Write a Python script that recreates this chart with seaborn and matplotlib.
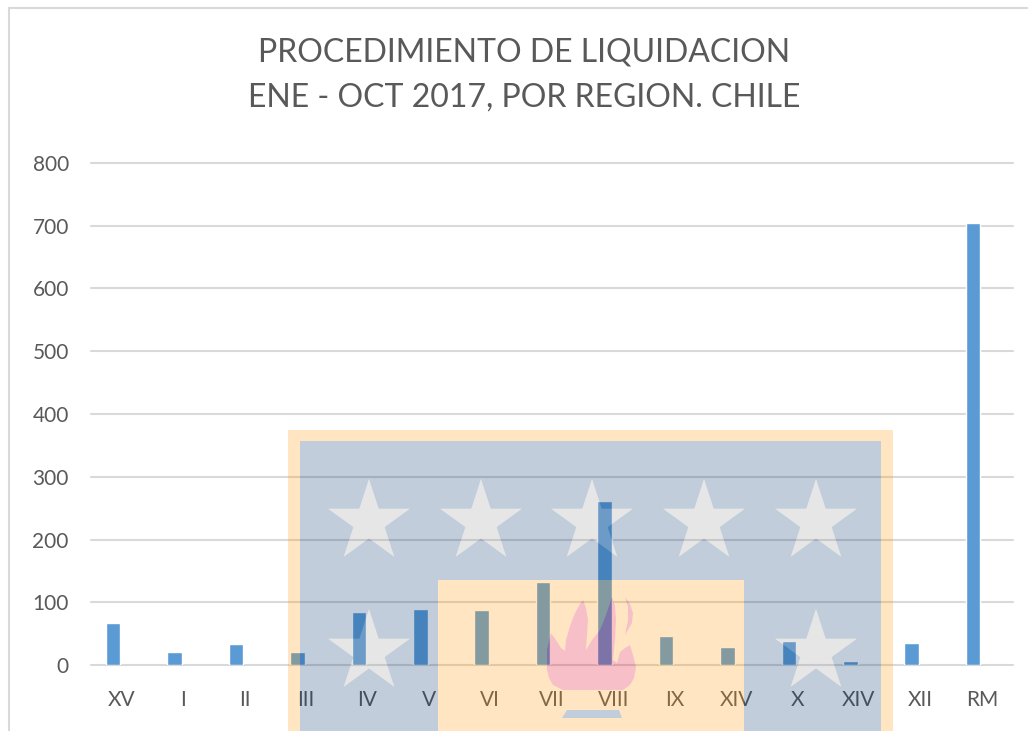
import matplotlib
matplotlib.use("Agg")
import matplotlib.pyplot as plt
import numpy as np
import pandas as pd
import seaborn as sns
from matplotlib.patches import PathPatch
from matplotlib.path import Path
from matplotlib.lines import Line2D

regiones = ["XV", "I", "II", "III", "IV", "V", "VI", "VII", "VIII", "IX", "XIV", "X", "XIV", "XII", "RM"]
casos = [67, 21, 33, 20, 84, 90, 87, 132, 261, 47, 28, 39, 6, 35, 705]
y_ticks = [0, 100, 200, 300, 400, 500, 600, 700, 800]
titulo = "PROCEDIMIENTO DE LIQUIDACION\nENE - OCT 2017, POR REGION. CHILE"

W, H = 1028, 731
TEXTO = "#595959"

sns.set_theme(style="white")
plt.rcParams["font.family"] = ["Lato", "DejaVu Sans"]

fig = plt.figure(figsize=(W / 100, H / 100), dpi=100)
ax = fig.add_axes([91 / W, 1 - 665 / H, (1012.5 - 91) / W, (665 - 163) / H])

# dos series como en el grafico original, la segunda viene vacia
data = pd.DataFrame({
    "pos": list(range(len(regiones))) * 2,
    "valor": casos + [np.nan] * len(casos),
    "serie": ["casos"] * len(casos) + ["vacia"] * len(casos),
})
sns.barplot(data=data, x="pos", y="valor", hue="serie", palette=["#5B9BD5", "#ED7D31"], saturation=1,
            width=0.56, gap=0.15, legend=False, ax=ax, zorder=3)

ax.set_ylim(0, 800)
ax.set_yticks(y_ticks)
ax.set_xticks(range(len(regiones)))
ax.set_xticklabels(regiones)
ax.set_xlabel("")
ax.set_ylabel("")
ax.grid(axis="y", color="#D9D9D9", linewidth=1.5, zorder=0, clip_on=False)
ax.set_axisbelow(True)
sns.despine(ax=ax, left=True, bottom=True, top=True, right=True)
ax.tick_params(axis="both", length=0, labelsize=15, labelcolor=TEXTO)
ax.tick_params(axis="x", pad=18)
ax.tick_params(axis="y", pad=16)

fig.text(524 / W, 1 - 75 / H, titulo, ha="center", va="center", fontsize=23, color=TEXTO, linespacing=1.65)

# borde del grafico
borde = "#D9D9D9"
fig.add_artist(Line2D([8.5 / W, 8.5 / W], [0, 1 - 7.5 / H], color=borde, lw=1.5))
fig.add_artist(Line2D([8.5 / W, 1], [1 - 7.5 / H, 1 - 7.5 / H], color=borde, lw=1.5))


# marca de agua (escudo), coordenadas en pixeles de la imagen
def rect(x0, y0, x1, y1):
    return [(x0, y0), (x1, y0), (x1, y1), (x0, y1)]


def estrella(cx, cy, r=43):
    pts = []
    for i in range(10):
        rad = r if i % 2 == 0 else r * 0.382
        ang = np.pi / 2 + i * np.pi / 5
        pts.append((cx + rad * np.cos(ang), cy - rad * np.sin(ang)))
    return pts


def orientar(pts, horario):
    a = np.array(pts)
    area = np.sum(a[:, 0] * np.roll(a[:, 1], -1) - np.roll(a[:, 0], -1) * a[:, 1])
    return pts if (area > 0) == horario else pts[::-1]


def compuesto(anillos, color, alpha=0.25):
    verts, codes = [], []
    for pts in anillos:
        verts += [(x / W, 1 - y / H) for x, y in pts] + [(0, 0)]
        codes += [Path.MOVETO] + [Path.LINETO] * (len(pts) - 1) + [Path.CLOSEPOLY]
    fig.add_artist(PathPatch(Path(verts, codes), facecolor=color, edgecolor="none", alpha=alpha,
                             transform=fig.transFigure, zorder=10))


estrellas = [estrella(x, 522) for x in (369, 481, 592, 704, 816)] + [estrella(x, 652) for x in (369, 816)]
llama = [(551, 633), (556, 640), (561, 648), (565, 651), (566, 640), (570, 626), (575, 613), (580, 604), (583, 600),
         (586, 608), (588, 620), (587, 635), (586, 650), (592, 640), (600, 630), (606, 615), (612, 597), (615, 606),
         (616, 620), (615, 640), (613, 660), (617, 663), (620, 652), (625, 648), (630, 645), (633, 655), (636, 667),
         (634, 678), (630, 685), (623, 690), (563, 690), (553, 685), (549, 678), (547, 670), (547, 650)]
llama2 = [(625, 597), (630, 604), (633, 613), (632, 623), (625, 635), (628, 620), (628, 607)]
base = [(567, 710), (619, 710), (622, 718), (562, 718)]

exterior = rect(288, 430, 893, 731)
azul = rect(300, 441, 881, 731)
interior = rect(438, 580, 744, 731)

compuesto([orientar(exterior, True), orientar(azul, False), orientar(interior, True),
           orientar(llama, False), orientar(llama2, False), orientar(base, False)], "#FF9A08")
compuesto([orientar(azul, True), orientar(interior, False)] + [orientar(e, False) for e in estrellas], "#083870")
compuesto([orientar(base, True)], "#083870")
compuesto([orientar(e, True) for e in estrellas], "#9C9C9C")
compuesto([orientar(llama, True), orientar(llama2, True)], "#E00024")

fig.savefig("out.png", dpi=100)
